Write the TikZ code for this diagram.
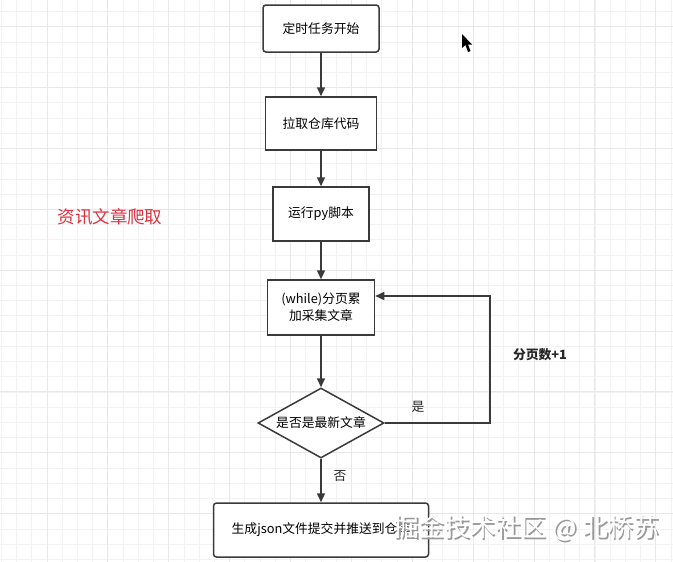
\documentclass[tikz,border=0pt]{standalone}
\usepackage{fontspec}
\setmainfont{Noto Sans CJK SC}
\usetikzlibrary{arrows.meta,positioning,shapes.geometric}
\definecolor{titlered}{RGB}{222,48,62}
\definecolor{linegray}{RGB}{58,58,58}

\begin{document}
\begin{tikzpicture}[x=1pt,y=-1pt,
  box/.style={draw=linegray,line width=1.5pt,fill=white,inner sep=0pt,
    minimum height=53pt,align=center,font=\fontsize{12.8}{17}\selectfont},
  rbox/.style={box,rounded corners=3pt},
  decision/.style={box,diamond,aspect=1.8,minimum width=126pt,minimum height=70pt},
  flow/.style={draw=linegray,line width=1.5pt,-{Triangle[length=9pt,width=8pt]}},
  lbl/.style={font=\fontsize{12.8}{15}\selectfont,text=black!85}]
  % page: 673 x 562, y grows downwards
  \useasboundingbox (0,0) rectangle (673,562);
  \fill[white] (0,0) rectangle (673,562);
  % grid: minor every 15.22, major every fourth line
  \def\gs{15.22}
  \foreach \k in {-3,...,41} {
    \draw[gray!10,line width=0.8pt] ({47+\gs*\k},0) -- ({47+\gs*\k},562);
    \draw[gray!10,line width=0.8pt] (0,{26.7+\gs*\k}) -- (673,{26.7+\gs*\k});
  }
  \foreach \k in {-1,0,...,10} {
    \draw[gray!18,line width=1pt] ({47+4*\gs*\k},0) -- ({47+4*\gs*\k},562);
    \draw[gray!18,line width=1pt] (0,{26.7+4*\gs*\k}) -- (673,{26.7+4*\gs*\k});
  }
  % title on the left
  \node[text=titlered,font=\fontsize{17.5}{20}\selectfont] (title) at (110,217) {资讯文章爬取};
  % flow steps
  \node[rbox,minimum width=116pt,minimum height=47pt] (start) at (321,28.5) {定时任务开始};
  \node[box,minimum width=111pt] (pull) at (321,123.5) {拉取仓库代码};
  \node[box,minimum width=96pt,minimum height=54pt] (run) at (321,214) {运行py脚本};
  \node[box,minimum width=107pt,minimum height=55pt] (crawl) at (321,307.5) {(while)分页累\\加采集文章};
  \node[decision] (newest) at (321,423) {是否是最新文章};
  \node[rbox,minimum width=215pt,minimum height=54pt] (push) at (321,530) {生成json文件提交并推送到仓库};
  % connectors
  \draw[flow] (start) -- (pull);
  \draw[flow] (pull) -- (run);
  \draw[flow] (run) -- (crawl);
  \draw[flow] (crawl) -- (newest);
  \draw[flow] (newest) -- (push);
  % loop back: next page
  \coordinate (loopturn) at (490,296);
  \draw[flow] (newest.east) -| (loopturn) -- (crawl.east |- loopturn);
  \node[lbl] (yes) at (418,407) {是};
  \node[lbl] (no) at (340,476) {否};
  \node[lbl,font=\fontsize{12.8}{15}\selectfont\bfseries] (pageinc) at (540,355) {分页数+1};
  % mouse pointer
  \fill[black] (462,34) -- (462,48) -- (465.5,45) -- (468,52) -- (470.5,51) -- (468,44.5) -- (472,44.5) -- cycle;
  % watermark
  \node[text=gray!80,font=\fontsize{25.5}{26}\selectfont] (wmshade) at (528,529.5) {掘金技术社区 @ 北桥苏};
  \node[text=white,font=\fontsize{25.5}{26}\selectfont] (wm) at (526.5,528) {掘金技术社区 @ 北桥苏};
\end{tikzpicture}
\end{document}
